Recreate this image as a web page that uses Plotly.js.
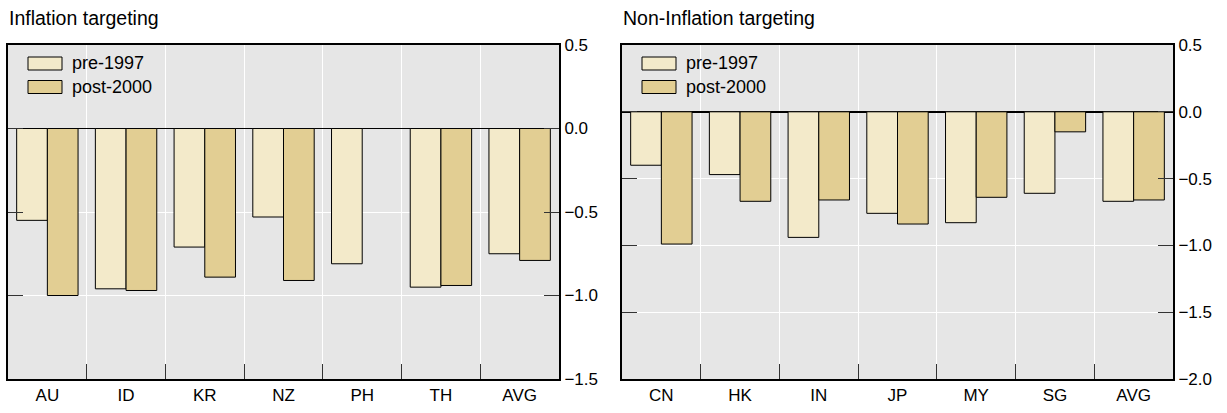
<!DOCTYPE html>
<html>
<head>
<meta charset="utf-8">
<script src="https://cdn.plot.ly/plotly-3.0.1.min.js"></script>
<style>html,body{margin:0;padding:0;background:#fff;}#chart{width:1227px;height:413px;}</style>
</head>
<body>
<div id="chart"></div>
<script>
// Data
const itCategories = ["AU", "ID", "KR", "NZ", "PH", "TH", "AVG"];
const itPre1997 = [-0.55, -0.96, -0.71, -0.53, -0.81, -0.95, -0.75];
const itPost2000 = [-1.00, -0.97, -0.89, -0.91, null, -0.94, -0.79];

const nitCategories = ["CN", "HK", "IN", "JP", "MY", "SG", "AVG"];
const nitPre1997 = [-0.40, -0.47, -0.94, -0.76, -0.83, -0.61, -0.67];
const nitPost2000 = [-0.99, -0.67, -0.66, -0.84, -0.64, -0.15, -0.66];

const seriesNames = ["pre-1997", "post-2000"];
const panelTitles = ["Inflation targeting", "Non-Inflation targeting"];

const colors = ["#f3eaca", "#e2ce93"];
const W = 1227, H = 413;
const FONT = "Liberation Sans, Arial, sans-serif";

function bar(x, y, name, color, xa, ya) {
  return {
    type: "bar", x: x, y: y, name: name, xaxis: xa, yaxis: ya, showlegend: false,
    marker: {color: color, line: {color: "#000", width: 1}},
    hoverinfo: "skip"
  };
}

const traces = [
  bar(itCategories, itPre1997, seriesNames[0], colors[0], "x", "y"),
  bar(itCategories, itPost2000, seriesNames[1], colors[1], "x", "y"),
  bar(nitCategories, nitPre1997, seriesNames[0], colors[0], "x2", "y2"),
  bar(nitCategories, nitPost2000, seriesNames[1], colors[1], "x2", "y2")
];

const mt = 45, mb = 34;
const plotH = H - mt - mb;

function xax(domain, anchor) {
  return {
    domain: domain, anchor: anchor, type: "category",
    tickson: "boundaries", ticks: "inside", ticklen: 15, tickwidth: 1, tickcolor: "#333",
    showgrid: true, gridcolor: "#ffffff", gridwidth: 1,
    showline: true, linecolor: "#000", linewidth: 2, mirror: true,
    tickfont: {family: FONT, size: 17, color: "#000"},
    fixedrange: true
  };
}
function yax(range, dtick, anchor) {
  return {
    anchor: anchor, side: "right", range: range, dtick: dtick, tickformat: ".1f",
    ticks: "inside", ticklen: 15, tickwidth: 1, tickcolor: "#333",
    showgrid: true, gridcolor: "#ffffff", gridwidth: 1,
    zeroline: true, zerolinecolor: "#000", zerolinewidth: 1.5,
    showline: true, linecolor: "#000", linewidth: 2, mirror: "ticks",
    tickfont: {family: FONT, size: 17, color: "#000"},
    fixedrange: true
  };
}

const panelLeft = [8, 622];
const panelWidth = 551;

// legend drawn as swatches + labels (paper coordinates, pixel-converted)
const px = v => v / W;
const py = v => 1 - (v - mt) / plotH;
const shapes = [];
const annotations = [];
panelLeft.forEach((L, p) => {
  seriesNames.forEach((nm, i) => {
    const top = 57 + i * 23.5;
    shapes.push({
      type: "rect", xref: "paper", yref: "paper",
      x0: px(L + 20), x1: px(L + 54), y0: py(top), y1: py(top + 13),
      fillcolor: colors[i], line: {color: "#000", width: 1}
    });
    annotations.push({
      text: nm, xref: "paper", yref: "paper", x: px(L + 62), y: py(top + 6.5),
      xanchor: "left", yanchor: "middle", showarrow: false,
      font: {family: FONT, size: 18, color: "#000"}
    });
  });
  annotations.push({
    text: panelTitles[p], xref: "paper", yref: "paper", x: px(L - 1), y: 1,
    xanchor: "left", yanchor: "bottom", yshift: 14, showarrow: false,
    font: {family: FONT, size: 19.5, color: "#000"}
  });
});

const layout = {
  width: W, height: H,
  margin: {l: 0, r: 0, t: mt, b: mb, pad: 0},
  paper_bgcolor: "#ffffff",
  plot_bgcolor: "#e6e6e6",
  barmode: "group", bargap: 0.22, bargroupgap: 0,
  font: {family: FONT, size: 17, color: "#000"},
  showlegend: false,
  xaxis: xax([px(panelLeft[0]), px(panelLeft[0] + panelWidth)], "y"),
  yaxis: yax([-1.5, 0.5], 0.5, "x"),
  xaxis2: xax([px(panelLeft[1]), px(panelLeft[1] + panelWidth)], "y2"),
  yaxis2: yax([-2.0, 0.5], 0.5, "x2"),
  shapes: shapes,
  annotations: annotations
};

Plotly.newPlot("chart", traces, layout, {displayModeBar: false, staticPlot: true});
</script>
</body>
</html>
